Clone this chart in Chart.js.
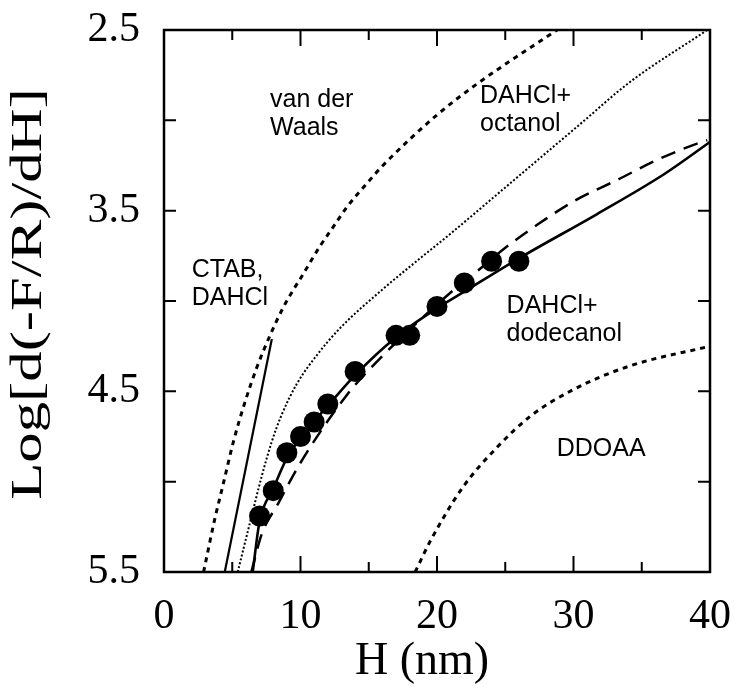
<!DOCTYPE html>
<html lang="en">
<head>
<meta charset="UTF-8">
<title>Log d(-F/R)/dH versus H</title>
<script src="https://cdn.jsdelivr.net/npm/chart.js"></script>
<style>
  html, body { margin: 0; padding: 0; background: #fff; }
</style>
</head>
<body>
<canvas id="forceChart" width="734" height="693"></canvas>

<script>
// measured points, DAHCl + dodecanol
const dataH   = [7, 8, 9, 10, 11, 12, 14, 17, 18, 20, 22, 24, 26];
const dataLog = [5.19, 5.05, 4.84, 4.75, 4.67, 4.57, 4.39, 4.19, 4.19, 4.03, 3.90, 3.78, 3.78];

// solid curve through the points
const fitH   = [6.5, 7, 8, 9, 10, 11, 12, 14, 17, 20, 22, 26, 31.7, 36.6, 40];
const fitLog = [5.5, 5.22, 5.04, 4.87, 4.76, 4.665, 4.58, 4.41, 4.2, 4.04, 3.948, 3.764, 3.52, 3.30, 3.12];

// long dashed curve
const dashH   = [6.4, 7.16, 8.37, 9.96, 13.4, 15.6, 21.2, 22.7, 25.1, 27.5, 30.2, 33.2, 36.1, 39.0, 39.8];
const dashLog = [5.5, 5.29, 5.12, 4.90, 4.52, 4.335, 3.94, 3.85, 3.70, 3.57, 3.44, 3.33, 3.22, 3.13, 3.11];

// van der Waals
const vdwH   = [2.9, 3.74, 4.35, 5.08, 5.93, 6.79, 7.77, 8.74, 9.5, 10, 11.4, 12.4, 13.4, 14.85, 16.1, 20, 22.9, 28, 28.8];
const vdwLog = [5.5, 5.2, 5.01, 4.78, 4.56, 4.37, 4.19, 4.035, 3.935, 3.875, 3.70, 3.59, 3.48, 3.35, 3.245, 2.97, 2.80, 2.54, 2.5];

// CTAB, DAHCl (straight line)
const ctabH   = [4.45, 7.9];
const ctabLog = [5.5, 4.21];

// DAHCl + octanol
const octH   = [5.4, 6.42, 7.16, 7.89, 8.62, 9.72, 11.3, 12.9, 16.1, 18.5, 20.95, 24.4, 30.5, 34.1, 39.8];
const octLog = [5.5, 5.19, 4.97, 4.78, 4.63, 4.46, 4.29, 4.15, 3.93, 3.78, 3.63, 3.41, 3.02, 2.79, 2.5];

// DDOAA
const ddoaaH   = [18.4, 19.5, 21.9, 24.4, 26.8, 30, 34.1, 40];
const ddoaaLog = [5.5, 5.33, 5.03, 4.81, 4.64, 4.49, 4.36, 4.25];

// axis ticks
const xTickLabels = [0, 10, 20, 30, 40];
const xMinorTicks = [5, 15, 25, 35];
const yTickLabels = [2.5, 3.5, 4.5, 5.5];
const yMinorTicks = [3, 4, 5];

const xTitle = 'H (nm)';
const yTitle = 'Log[d(-F/R)/dH]';

// text placed next to the curves (data coordinates)
const curveLabels = [
  { lines: ['van der', 'Waals'], h: 7.77, log: 2.89 },
  { lines: ['DAHCl+', 'octanol'], h: 23.15, log: 2.865 },
  { lines: ['CTAB,', 'DAHCl'], h: 2.03, log: 3.83 },
  { lines: ['DAHCl+', 'dodecanol'], h: 25.1, log: 4.03 },
  { lines: ['DDOAA'], h: 28.77, log: 4.82 }
];

const zip = (xs, ys) => xs.map((x, i) => ({ x: x, y: ys[i] }));

const serif = '"Liberation Serif", "Times New Roman", serif';
const sans = '"Liberation Sans", Arial, sans-serif';

const lineSet = (xs, ys, width, dash, smooth) => ({
  data: zip(xs, ys),
  showLine: true,
  borderColor: '#000',
  borderWidth: width,
  borderDash: dash,
  pointRadius: 0,
  cubicInterpolationMode: smooth ? 'monotone' : 'default',
  tension: 0
});

// box around the plot with inward tick marks
const framePlugin = {
  id: 'frame',
  afterDatasetsDraw(chart) {
    const { ctx, chartArea: a, scales: { x, y } } = chart;
    ctx.save();
    ctx.strokeStyle = '#000';
    ctx.lineWidth = 2.5;
    ctx.strokeRect(a.left, a.top, a.right - a.left, a.bottom - a.top);
    ctx.lineWidth = 2;
    ctx.beginPath();
    const xt = xTickLabels.map(v => [v, 16]).concat(xMinorTicks.map(v => [v, 10]));
    xt.forEach(([v, len]) => {
      const px = x.getPixelForValue(v);
      if (px <= a.left + 1 || px >= a.right - 1) return;
      ctx.moveTo(px, a.bottom); ctx.lineTo(px, a.bottom - len);
      ctx.moveTo(px, a.top); ctx.lineTo(px, a.top + len);
    });
    yTickLabels.concat(yMinorTicks).forEach(v => {
      const py = y.getPixelForValue(v);
      if (py <= a.top + 1 || py >= a.bottom - 1) return;
      ctx.moveTo(a.left, py); ctx.lineTo(a.left + 12, py);
      ctx.moveTo(a.right, py); ctx.lineTo(a.right - 12, py);
    });
    ctx.stroke();
    ctx.restore();
  }
};

// curve names and the two axis titles
const labelPlugin = {
  id: 'curveLabels',
  afterDatasetsDraw(chart) {
    const { ctx, chartArea: a, scales: { x, y } } = chart;
    ctx.save();
    ctx.fillStyle = '#000';
    ctx.font = '25px ' + sans;
    ctx.textAlign = 'left';
    ctx.textBaseline = 'middle';
    curveLabels.forEach(l => {
      const px = x.getPixelForValue(l.h);
      const py = y.getPixelForValue(l.log);
      l.lines.forEach((t, i) => ctx.fillText(t, px, py + i * 28));
    });

    // x title sits a little left of the axis centre in the original
    ctx.font = '46px ' + serif;
    ctx.textAlign = 'center';
    ctx.fillText(xTitle, (a.left + a.right) / 2 - 15, 662);

    // y title is drawn stretched along its length
    ctx.font = '44px ' + serif;
    ctx.translate(29, (a.top + a.bottom) / 2 - 7);
    ctx.rotate(-Math.PI / 2);
    ctx.scale(1.38, 1);
    ctx.fillText(yTitle, 0, 0);
    ctx.restore();
  }
};

const ctx = document.getElementById('forceChart').getContext('2d');

new Chart(ctx, {
  type: 'scatter',
  data: {
    datasets: [
      lineSet(vdwH, vdwLog, 3, [5, 5], true),
      lineSet(ctabH, ctabLog, 2.2, [], false),
      lineSet(octH, octLog, 2, [2, 2], true),
      lineSet(ddoaaH, ddoaaLog, 3, [5, 5], true),
      lineSet(dashH, dashLog, 2.5, [15, 9], true),
      lineSet(fitH, fitLog, 2.6, [], true),
      {
        data: zip(dataH, dataLog),
        showLine: false,
        pointRadius: 10.5,
        pointBackgroundColor: '#000',
        pointBorderColor: '#000',
        pointBorderWidth: 0
      }
    ]
  },
  options: {
    responsive: false,
    animation: false,
    layout: { padding: { top: 30, right: 24, left: 0, bottom: 0 } },
    plugins: {
      legend: { display: false },
      tooltip: { enabled: false }
    },
    scales: {
      x: {
        type: 'linear',
        min: 0,
        max: 40,
        grid: { display: false, drawTicks: false },
        border: { display: false },
        afterBuildTicks: s => { s.ticks = xTickLabels.map(v => ({ value: v })); },
        afterFit: s => { s.height = 121; s.paddingLeft = 0; s.paddingRight = 0; },
        ticks: {
          color: '#000',
          font: { family: serif, size: 42 },
          padding: 20,
          maxRotation: 0
        },
        title: { display: false }
      },
      y: {
        type: 'linear',
        min: 2.5,
        max: 5.5,
        reverse: true,
        grid: { display: false, drawTicks: false },
        border: { display: false },
        afterBuildTicks: s => { s.ticks = yTickLabels.map(v => ({ value: v })); },
        afterFit: s => { s.width = 164; s.paddingTop = 0; s.paddingBottom = 0; },
        ticks: {
          color: '#000',
          font: { family: serif, size: 42 },
          padding: 24,
          callback: v => v.toFixed(1)
        },
        title: { display: false }
      }
    }
  },
  plugins: [framePlugin, labelPlugin]
});
</script>
</body>
</html>
